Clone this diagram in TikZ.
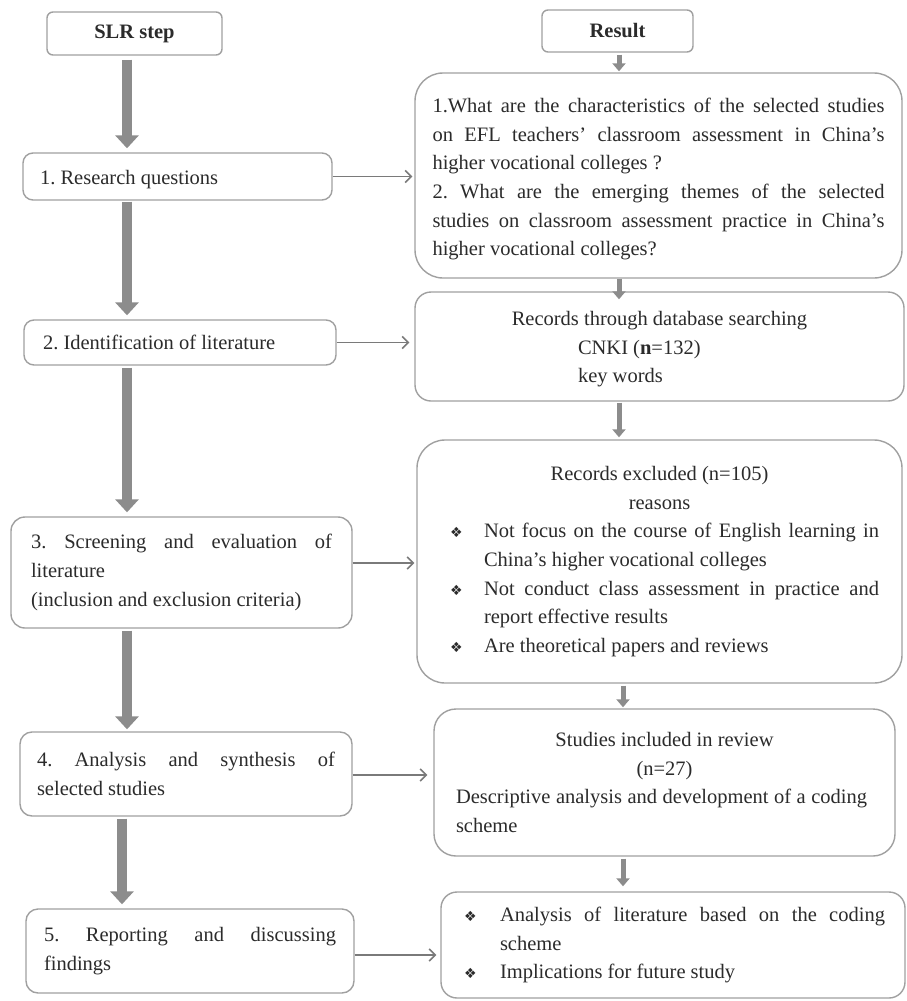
\documentclass[tikz,border=0pt]{standalone}
\usepackage{fontspec}
\setmainfont{Liberation Serif}
\newfontfamily\symfont{DejaVu Sans}
\usetikzlibrary{arrows.meta,calc}
\definecolor{bordergray}{HTML}{A0A0A0}
\definecolor{arrowgray}{HTML}{8C8C8C}
\definecolor{linegray}{HTML}{7A7A7A}
\definecolor{textgray}{HTML}{2B2B2B}
\newcommand{\rs}{\spaceskip=0pt\xspaceskip=0pt\relax}
\newcommand{\jline}[2]{{\rs\makebox[#1][s]{#2}}}
\newcommand{\bul}{{\symfont\fontsize{14}{14}\selectfont ❖}}
\begin{document}
\begin{tikzpicture}[x=1pt,y=-1pt,
  box/.style={draw=bordergray, line width=1.4pt, rounded corners=#1, fill=white,
    text=textgray, font=\fontsize{20.5}{28.6}\selectfont\frenchspacing, inner sep=0pt, align=left},
  box/.default=10pt,
  headbox/.style={box=6pt, font=\bfseries\fontsize{20.5}{24}\selectfont},
  bigarrow/.style={draw=arrowgray, line width=10pt, -{Triangle[width=23pt,length=13pt]}},
  smallarrow/.style={draw=arrowgray, line width=5pt, -{Triangle[width=13pt,length=8pt]}},
  thinarrow/.style={draw=linegray, line width=1.6pt, -{Straight Barb[length=6pt,width=12pt]}}
]
\useasboundingbox (0,0) rectangle (906,1001);
\fill[white] (0,0) rectangle (906,1001);

% left column
\node[headbox, minimum width=175pt, minimum height=43pt] (slr) at (134.5,33.5) {SLR step};
\node[box, minimum width=309pt, minimum height=47pt, text width=275pt] (b1) at (177.5,176.5) {\rs\rule{0pt}{20pt}1. Research questions};
\node[box, minimum width=312pt, minimum height=45pt, text width=274pt] (b2) at (180,342.5) {\rs 2. Identification of literature};
\node[box=14pt, minimum width=341pt, minimum height=111pt, text width=301pt] (b3) at (181.5,572.5)
  {\rs\jline{301pt}{3. Screening and evaluation of}\\ literature\\ (inclusion and exclusion criteria)};
\node[box=12pt, minimum width=332pt, minimum height=84pt, text width=298pt] (b4) at (186,774)
  {\rs\jline{298pt}{4. Analysis and synthesis of}\\ selected studies};
\node[box=12pt, minimum width=328pt, minimum height=84pt, text width=292pt] (b5) at (190,951)
  {\rs\jline{292pt}{5. Reporting and discussing}\\ findings};

% right column
\node[headbox, minimum width=151pt, minimum height=42pt] (res) at (617.5,31) {Result};
\node[box=28pt, minimum width=487pt, minimum height=205pt, text width=452pt] (r1) at (658.5,175.5)
  {\rs\rule{0pt}{22pt}\jline{452pt}{1.What are the characteristics of the selected studies}\\
   \jline{452pt}{on EFL teachers' classroom assessment in China's}\\
   higher vocational colleges ?\\
   \jline{452pt}{2. What are the emerging themes of the selected}\\
   \jline{452pt}{studies on classroom assessment practice in China's}\\
   higher vocational colleges?};
\node[box=16pt, minimum width=489pt, minimum height=109pt, text width=400pt] (r2) at (659.5,346.5)
  {\rs\rule{0pt}{20pt}\makebox[400pt]{Records through database searching}\\
   \hspace*{118.5pt}CNKI (\textbf{n}=132)\\
   \hspace*{118.5pt}key words};
\node[box=28pt, minimum width=485pt, minimum height=243pt, text width=439pt] (r3) at (659.5,561.5)
  {\rs\makebox[439pt]{Records excluded (n=105)}\\
   \makebox[439pt]{reasons}\\
   \hspace*{10pt}\makebox[34pt][l]{\bul}\jline{395pt}{Not focus on the course of English learning in}\\
   \hspace*{44pt}China's higher vocational colleges\\
   \hspace*{10pt}\makebox[34pt][l]{\bul}\jline{395pt}{Not conduct class assessment in practice and}\\
   \hspace*{44pt}report effective results\\
   \hspace*{10pt}\makebox[34pt][l]{\bul}Are theoretical papers and reviews};
\node[box=22pt, minimum width=461pt, minimum height=147pt, text width=417pt] (r4) at (664.5,782.5)
  {\rs\makebox[417pt]{Studies included in review}\\
   \makebox[417pt]{(n=27)}\\
   \jline{411pt}{Descriptive analysis and development of a coding}\\
   scheme};
\node[box=16pt, minimum width=464pt, minimum height=106pt, text width=424pt] (r5) at (673,945)
  {\rs\hspace*{3pt}\makebox[36pt][l]{\bul}\jline{385pt}{Analysis of literature based on the coding}\\
   \hspace*{39pt}scheme\\
   \hspace*{3pt}\makebox[36pt][l]{\bul}Implications for future study};

% guide coordinates for the arrow columns
\coordinate (ax) at (127,0);
\coordinate (ax2) at (122,0);
\coordinate (rx) at (619,0);
\coordinate (rx2) at (623,0);

% left block arrows
\draw[bigarrow, shorten <=4pt, shorten >=4pt] (slr.south -| ax) -- (b1.north -| ax);
\draw[bigarrow, shorten <=1pt, shorten >=4pt] (b1.south -| ax) -- (b2.north -| ax);
\draw[bigarrow, shorten <=2pt, shorten >=4pt] (b2.south -| ax) -- (b3.north -| ax);
\draw[bigarrow, shorten <=2pt, shorten >=2pt] (b3.south -| ax) -- (b4.north -| ax);
\draw[bigarrow, shorten <=2pt, shorten >=4pt] (b4.south -| ax2) -- (b5.north -| ax2);

% right small arrows
\draw[smallarrow, shorten <=2pt, shorten >=1pt] (res.south -| rx) -- (r1.north -| rx);
\draw[smallarrow, shorten >=-8pt] (r1.south -| rx) -- (r2.north -| rx);
\draw[smallarrow, shorten <=1pt, shorten >=2pt] (r2.south -| rx) -- (r3.north -| rx);
\draw[smallarrow, shorten <=2pt, shorten >=1pt] (r3.south -| rx2) -- (r4.north -| rx2);
\draw[smallarrow, shorten <=2pt, shorten >=5pt] (r4.south -| rx2) -- (r5.north -| rx2);

% horizontal arrows
\draw[thinarrow, shorten >=2pt] (b1.east) -- (b1.east -| r1.west);
\draw[thinarrow, shorten >=5pt] (b2.east) -- (b2.east -| r2.west);
\draw[thinarrow, shorten >=2pt] ([yshift=9.5pt]b3.east) -- ([yshift=9.5pt]b3.east -| r3.west);
\draw[thinarrow, shorten >=6pt] ([yshift=-1pt]b4.east) -- ([yshift=-1pt]b4.east -| r4.west);
\draw[thinarrow, shorten >=4pt] ([yshift=-4pt]b5.east) -- ([yshift=-4pt]b5.east -| r5.west);
\end{tikzpicture}
\end{document}
